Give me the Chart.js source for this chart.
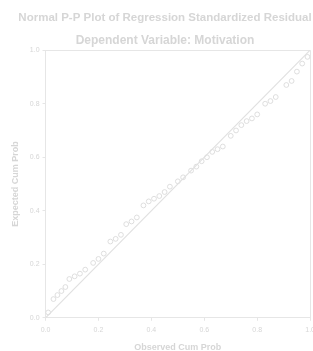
<!DOCTYPE html>
<html>
<head>
<meta charset="utf-8">
<script src="https://cdn.jsdelivr.net/npm/chart.js@4"></script>
<style>
html,body{margin:0;padding:0;background:#ffffff;overflow:hidden;}
#wrap{width:320px;height:353px;position:relative;}
canvas{filter:blur(0.5px);}
</style>
</head>
<body>
<div id="wrap"><canvas id="c"></canvas></div>
<script>
const titleText = "Normal P-P Plot of Regression Standardized Residual";
const subtitleText = "Dependent Variable: Motivation";
const xTitle = "Observed Cum Prob";
const yTitle = "Expected Cum Prob";
const tickValues = [0, 0.2, 0.4, 0.6, 0.8, 1.0];
const observed = [0.01,0.03,0.045,0.06,0.075,0.09,0.11,0.13,0.15,0.18,0.20,0.22,0.245,0.265,0.285,0.305,0.325,0.345,0.37,0.39,0.41,0.43,0.45,0.47,0.50,0.52,0.55,0.57,0.59,0.61,0.63,0.65,0.67,0.70,0.72,0.74,0.76,0.78,0.80,0.83,0.85,0.87,0.91,0.93,0.95,0.97,0.99];
const expected = [0.02,0.07,0.085,0.10,0.115,0.145,0.155,0.165,0.18,0.205,0.22,0.24,0.285,0.295,0.31,0.35,0.36,0.375,0.42,0.435,0.445,0.455,0.47,0.49,0.51,0.525,0.55,0.565,0.585,0.60,0.62,0.63,0.64,0.68,0.70,0.72,0.735,0.745,0.76,0.80,0.81,0.825,0.87,0.885,0.92,0.95,0.975];
const refLine = [0, 1];

const textCol = '#d6d6d6';
const axisCol = '#e6e6e6';
const pointCol = '#dadada';

new Chart(document.getElementById('c'), {
  type: 'scatter',
  data: {
    datasets: [
      {
        type: 'line',
        data: refLine.map(v => ({x: v, y: v})),
        borderColor: '#e0e0e0',
        borderWidth: 1.2,
        pointRadius: 0,
        fill: false
      },
      {
        data: observed.map((v, i) => ({x: v, y: expected[i]})),
        pointStyle: 'circle',
        pointRadius: 2.4,
        borderWidth: 0.9,
        borderColor: pointCol,
        backgroundColor: 'rgba(0,0,0,0)'
      }
    ]
  },
  options: {
    responsive: true,
    maintainAspectRatio: false,
    animation: false,
    layout: {padding: {left: 10, right: 0, top: 4, bottom: 0}},
    plugins: {
      legend: {display: false},
      tooltip: {enabled: false},
      title: {display: true, text: titleText, color: textCol,
        font: {family: 'Liberation Sans', size: 11.5, weight: 'bold'}, padding: {top: 7, bottom: 9}},
      subtitle: {display: true, text: subtitleText, color: textCol,
        font: {family: 'Liberation Sans', size: 12, weight: 'bold'}, padding: {top: 0, bottom: 2}}
    },
    scales: {
      x: {
        type: 'linear', min: 0, max: 1,
        afterBuildTicks: s => { s.ticks = tickValues.map(v => ({value: v})); },
        ticks: {color: textCol, font: {family: 'Liberation Sans', size: 7}, padding: 5,
          callback: v => v.toFixed(1), maxRotation: 0},
        grid: {color: ctx => ctx.tick && ctx.tick.value === 1 ? axisCol : 'rgba(0,0,0,0)',
          tickColor: axisCol, tickLength: 3},
        border: {color: axisCol},
        title: {display: true, text: xTitle, color: textCol,
          font: {family: 'Liberation Sans', size: 9, weight: 'bold'}, padding: {top: 3, bottom: 0}}
      },
      y: {
        type: 'linear', min: 0, max: 1,
        afterBuildTicks: s => { s.ticks = tickValues.map(v => ({value: v})); },
        ticks: {color: textCol, font: {family: 'Liberation Sans', size: 7}, padding: 3,
          callback: v => v.toFixed(1)},
        grid: {color: ctx => ctx.tick && ctx.tick.value === 1 ? axisCol : 'rgba(0,0,0,0)',
          tickColor: axisCol, tickLength: 3},
        border: {color: axisCol},
        title: {display: true, text: yTitle, color: textCol,
          font: {family: 'Liberation Sans', size: 9, weight: 'bold'}, padding: {top: 0, bottom: 6}}
      }
    }
  }
});
</script>
</body>
</html>
